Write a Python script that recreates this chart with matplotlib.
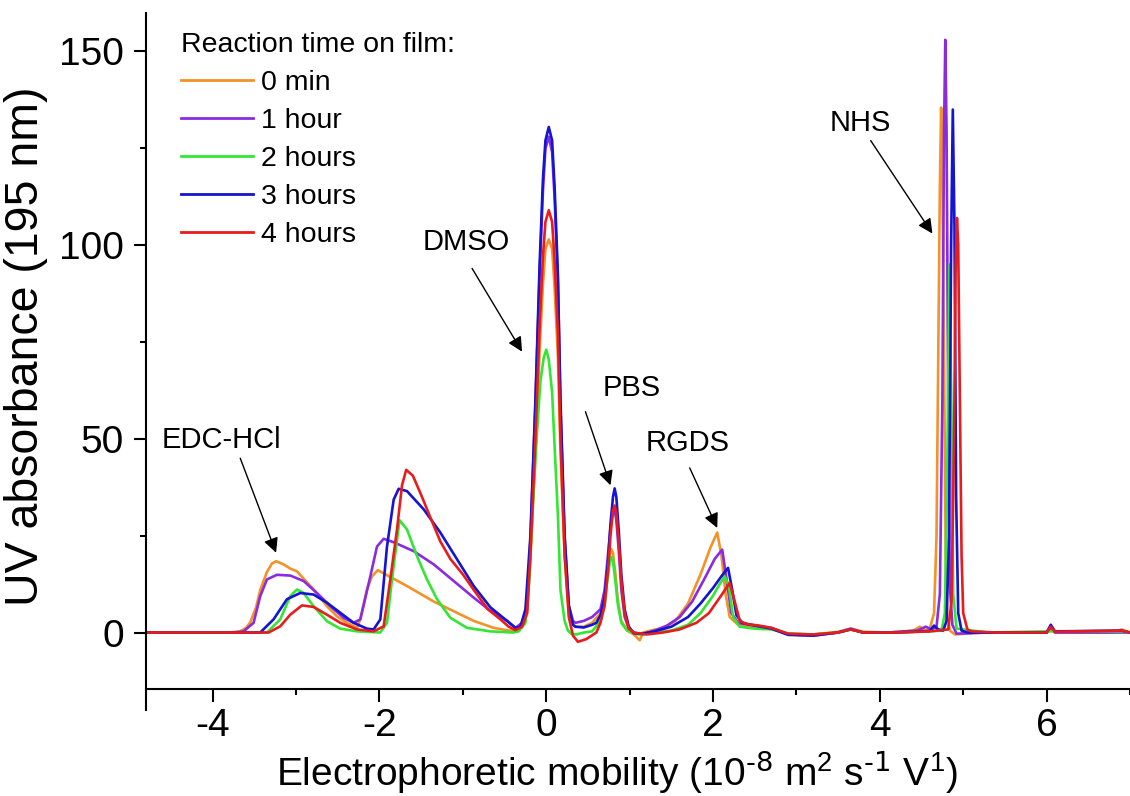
import matplotlib
matplotlib.use("Agg")
import matplotlib.pyplot as plt
from matplotlib.ticker import MultipleLocator

plt.rcParams['font.family'] = ['Liberation Sans', 'DejaVu Sans']
plt.rcParams['mathtext.default'] = 'regular'
plt.rcParams['axes.unicode_minus'] = False

# --- data (mobility, absorbance) ---
x_0min = [-4.8, -3.8, -3.67, -3.6, -3.55, -3.48, -3.43, -3.35, -3.29, -3.24, -3.15, -3.07, -2.99,
          -2.79, -2.63, -2.51, -2.39, -2.27, -2.23, -2.15, -2.09, -2.02, -1.91, -1.67, -1.35,
          -1.11, -0.87, -0.63, -0.45,
          -0.37, -0.29, -0.23, -0.19, -0.13, -0.08, -0.04, -0.01, 0.03, 0.07, 0.1, 0.14, 0.17,
          0.22, 0.27, 0.32, 0.35, 0.45, 0.55, 0.65, 0.7, 0.73, 0.76, 0.78, 0.8, 0.83, 0.86, 0.9,
          0.97, 1.05, 1.12, 1.16, 1.25, 1.4, 1.55, 1.7, 1.85, 1.97, 2.05, 2.1, 2.15, 2.2, 2.3,
          2.5, 2.7, 2.9, 3.2, 3.5, 3.65, 3.8, 4.1, 4.4, 4.48, 4.55, 4.6, 4.65, 4.68, 4.7, 4.72,
          4.735, 4.75, 4.77, 4.79, 4.81, 4.84, 4.9, 5.2, 6.0, 6.05, 6.1, 6.8, 6.9, 7.0]
y_0min = [0, 0, 0.3, 1.2, 2.6, 6.5, 11, 15.6, 17.8, 18.4, 17.6, 16.5, 15.8,
          11.1, 6.8, 4.2, 2.5, 1.2, 3.4, 11.1, 14.5, 16.1, 14.8, 12, 8,
          5.5, 3, 1.2, 0.5,
          0.5, 1.5, 5, 19, 47, 73, 90, 99, 101.5, 99, 89, 71, 47,
          20, 6, 2, 1.5, 1.5, 2.5, 5, 9, 15, 20, 21.5, 20.5, 15, 8, 3,
          0.5, -0.5, -2, 0, 0.5, 1.2, 3, 7.5, 15, 22, 25.8, 20, 10, 4, 2,
          1.5, 1, -0.3, -0.5, 0.2, 1, 0.2, 0, 0.5, 1.5, 0.5, 1, 5, 25, 70, 115,
          135.5, 120, 70, 20, 4, 0.5, -0.5, 0, 0, 1, 0, 0, 0.8, 0]

x_1h = [-4.8, -3.75, -3.63, -3.51, -3.43, -3.35, -3.23, -3.07, -2.91, -2.75, -2.59, -2.43, -2.31,
        -2.23, -2.11, -2.03, -1.95, -1.83, -1.59, -1.35, -1.11, -0.87, -0.67, -0.47,
        -0.37, -0.29, -0.23, -0.19, -0.13, -0.08, -0.04, -0.01, 0.03, 0.07, 0.1, 0.14, 0.17,
        0.22, 0.27, 0.32, 0.35, 0.45, 0.55, 0.65, 0.7, 0.74, 0.77, 0.8, 0.82, 0.84, 0.87, 0.9,
        0.94, 0.99, 1.05, 1.15, 1.3, 1.45, 1.6, 1.75, 1.9, 2.02, 2.11, 2.16, 2.22, 2.3, 2.5,
        2.7, 2.9, 3.2, 3.5, 3.65, 3.8, 4.1, 4.45, 4.55, 4.62, 4.68, 4.72, 4.75, 4.77, 4.785,
        4.8, 4.82, 4.84, 4.87, 4.92, 5.3, 6.0, 6.05, 6.1, 6.9, 7.0]
y_1h = [0, 0, 0.3, 2.5, 9.4, 13.7, 14.9, 14.7, 13.3, 10.2, 6.8, 3.8, 2.5,
        3.4, 14.5, 22.2, 24.2, 23.3, 21, 17.6, 13.3, 9, 5.6, 3,
        1.2, 2.5, 6, 24, 59, 92, 114, 125, 128, 124, 112, 90, 59,
        25, 7, 3, 2.5, 3, 4, 6, 11, 20, 27, 31, 31.5, 29, 21, 11,
        4, 1, 0, -0.5, 0.5, 1.8, 4, 8, 14, 19, 21.4, 14, 5, 2.5, 1.8,
        1.2, -0.5, -0.8, 0, 1, 0, 0, 0.5, 1.5, 0.8, 1.5, 10, 60, 130, 153,
        130, 60, 12, 2, -0.3, 0, 0, 0.8, 0, 0, 0]

x_2h = [-4.8, -3.45, -3.35, -3.19, -3.07, -2.99, -2.91, -2.79, -2.63, -2.47, -2.27, -1.99,
        -1.91, -1.85, -1.76, -1.67, -1.55, -1.43, -1.31, -1.15, -0.95, -0.67, -0.4,
        -0.33, -0.25, -0.21, -0.16, -0.11, -0.07, -0.03, 0.0, 0.03, 0.07, 0.1, 0.14, 0.17, 0.22,
        0.26, 0.3, 0.36, 0.45, 0.55, 0.65, 0.7, 0.73, 0.76, 0.78, 0.8, 0.83, 0.86, 0.9, 0.97,
        1.1, 1.3, 1.5, 1.7, 1.85, 2.0, 2.08, 2.14, 2.19, 2.24, 2.32, 2.5, 2.7, 2.9, 3.2, 3.5,
        3.65, 3.8, 4.2, 4.6, 4.74, 4.78, 4.81, 4.835, 4.86, 4.88, 4.92, 5.3, 6.0, 6.9, 7.0]
y_2h = [0, 0, 0, 3.4, 9.4, 11.1, 10.2, 6.8, 2.9, 1, 0.3, 0,
        2.5, 13.7, 29, 26.6, 19.7, 13.7, 8.6, 3.8, 1.2, 0.3, 0,
        0.3, 2.5, 12, 33, 52, 65, 71, 73, 70.5, 62, 48, 30, 11, 3,
        0.5, -0.3, -0.5, 0, 0.3, 3, 7, 13, 18, 19.5, 18.5, 13, 7, 2.5, 0.5,
        -0.5, 0, 0.5, 2, 5, 9.5, 12.5, 14.5, 12, 4, 1.5, 1, 0.8, -0.3, -0.5, 0,
        0.8, 0, 0, 0.3, 0.5, 5, 45, 95, 55, 10, 1, 0, 0.3, 0.3, 0]

x_3h = [-4.8, -3.55, -3.43, -3.27, -3.11, -2.95, -2.79, -2.63, -2.47, -2.31, -2.15, -2.07,
        -1.99, -1.91, -1.83, -1.77, -1.67, -1.47, -1.27, -1.07, -0.87, -0.67, -0.47, -0.37,
        -0.31, -0.25, -0.19, -0.13, -0.08, -0.04, -0.01, 0.03, 0.07, 0.1, 0.14, 0.17, 0.22,
        0.27, 0.32, 0.35, 0.45, 0.55, 0.6, 0.65, 0.7, 0.74, 0.77, 0.8, 0.82, 0.84, 0.87, 0.9,
        0.94, 0.99, 1.05, 1.15, 1.3, 1.5, 1.7, 1.85, 2.0, 2.1, 2.18, 2.23, 2.28, 2.35, 2.5,
        2.7, 2.9, 3.2, 3.5, 3.65, 3.8, 4.2, 4.6, 4.65, 4.7, 4.76, 4.8, 4.83, 4.855, 4.875,
        4.895, 4.915, 4.94, 4.98, 5.05, 5.4, 6.0, 6.05, 6.1, 6.9, 7.0]
y_3h = [0, 0, 0, 3.4, 8.6, 10.2, 9.8, 7.7, 5.1, 2.5, 1, 0.8,
        3.4, 22.2, 34.3, 37.1, 36.5, 31.8, 25.8, 18.9, 12, 6.5, 3, 1.2,
        1.5, 6, 25, 60, 95, 117, 127, 130.5, 127, 115, 92, 60, 25,
        7, 2, 1.5, 1.3, 2, 2.5, 4.5, 9, 18, 28, 35, 37.2, 35, 26, 15,
        6, 1.5, -0.2, -0.3, 0.3, 1.5, 4, 7.5, 11.5, 14.5, 16.7, 11, 4.5, 2.5, 1.8,
        1, -0.6, -0.8, 0, 0.8, 0, 0, 0.4, 1.8, 0.8, 0.5, 3, 25, 100, 135,
        105, 35, 5, 0.5, 0, 0, 0, 2, 0.3, 0.5, 0]

x_4h = [-4.8, -3.45, -3.33, -3.19, -3.07, -2.93, -2.79, -2.63, -2.47, -2.27, -2.07, -1.95,
        -1.87, -1.79, -1.73, -1.68, -1.6, -1.5, -1.39, -1.27, -1.15, -1.0, -0.87, -0.7, -0.55,
        -0.45, -0.37, -0.29, -0.23, -0.19, -0.13, -0.08, -0.04, -0.01, 0.03, 0.07, 0.1, 0.14,
        0.17, 0.22, 0.27, 0.32, 0.38, 0.48, 0.6, 0.65, 0.7, 0.74, 0.77, 0.8, 0.82, 0.84, 0.87,
        0.9, 0.94, 0.99, 1.05, 1.2, 1.4, 1.6, 1.8, 1.95, 2.08, 2.2, 2.26, 2.32, 2.4, 2.55,
        2.7, 2.9, 3.2, 3.5, 3.65, 3.8, 4.2, 4.6, 4.82, 4.86, 4.89, 4.91, 4.925, 4.94, 4.96,
        4.98, 5.0, 5.05, 5.1, 5.4, 6.0, 6.05, 6.1, 6.9, 7.0]
y_4h = [0, 0, 0, 1.6, 4.6, 7, 6.6, 4.6, 2.5, 0.8, 0.3, 1.6,
        13.7, 26.6, 38, 42, 40.5, 35.5, 29.7, 23.5, 19, 15, 11, 6, 3.4,
        1.5, 0.6, 1.5, 5, 20, 50, 79, 97, 106, 109, 106, 96, 77,
        50, 20, 4, -0.8, -2.4, -1.7, 0, 2.5, 7, 16, 25, 31.5, 32.8, 31, 23,
        13, 5, 1, 0, -0.5, 0, 0.8, 2.5, 5, 9, 12.8, 8, 3, 2.2, 1.8,
        1.2, -0.3, -0.5, 0, 0.8, 0, 0, 0.3, 0.8, 8, 50, 95, 107, 100, 60,
        20, 5, 0.8, 0.3, 0, 0, 1.5, 0.2, 0.5, 0]

labels = ['0 min', '1 hour', '2 hours', '3 hours', '4 hours']
colors = ['#f39226', '#8a2be2', '#33e633', '#1414d2', '#e81c1c']
series = [(x_0min, y_0min), (x_1h, y_1h), (x_2h, y_2h), (x_3h, y_3h), (x_4h, y_4h)]

# peak names, text position, arrow tip
peak_names = ['EDC-HCl', 'DMSO', 'PBS', 'RGDS', 'NHS']
peak_text = [(-3.89, 49.8), (-0.96, 100.7), (1.02, 63.2), (1.70, 49.0), (3.76, 131.5)]
peak_tip = [(-3.24, 20.6), (-0.29, 72.5), (0.77, 38.0), (2.05, 27.0), (4.63, 103.0)]
arrow_start = [(-3.67, 45.0), (-0.89, 94.0), (0.47, 57.0), (1.72, 42.5), (3.89, 127.0)]

fig = plt.figure(figsize=(11.3, 7.96), dpi=100)
ax = fig.add_axes([146 / 1130, 86 / 796, 984 / 1130, 697.3 / 796])

for (xs, ys), lab, c in zip(series, labels, colors):
    ax.plot(xs, ys, color=c, lw=1.9, label=lab, solid_joinstyle='round')

for name, tp, tip, st in zip(peak_names, peak_text, peak_tip, arrow_start):
    ax.text(tp[0], tp[1], name, fontsize=21, ha='center', va='center')
    ax.annotate('', xy=tip, xytext=st,
                arrowprops=dict(arrowstyle='-|>', color='black', lw=1.0,
                                mutation_scale=22, shrinkA=0, shrinkB=0))

ax.set_xlim(-4.8, 7.0)
ax.set_ylim(-20, 160)
ax.spines['top'].set_visible(False)
ax.spines['right'].set_visible(False)
ax.spines['bottom'].set_position(('data', -14.5))
for s in ('left', 'bottom'):
    ax.spines[s].set_linewidth(1.5)

ax.xaxis.set_major_locator(MultipleLocator(2))
ax.xaxis.set_minor_locator(MultipleLocator(1))
ax.yaxis.set_major_locator(MultipleLocator(50))
ax.yaxis.set_minor_locator(MultipleLocator(25))
ax.tick_params(which='major', length=9, width=1.5, labelsize=28, direction='out')
ax.tick_params(which='minor', length=4.5, width=1.5, direction='out')
ax.tick_params(axis='y', pad=7)
ax.tick_params(axis='x', pad=5)

ax.set_xlabel(r'Electrophoretic mobility (10$^{\text{-8}}$ m$^{2}$ s$^{\text{-1}}$ V$^{1}$)',
              fontsize=28)
ax.xaxis.set_label_coords(0.479, -0.055)
ax.set_ylabel('UV absorbance (195 nm)', fontsize=33.5)
ax.yaxis.set_label_coords(-0.1, 0.522)

leg = ax.legend(title='Reaction time on film:', loc='upper left', bbox_to_anchor=(0.036, 0.972),
                frameon=False, fontsize=20.5, title_fontsize=20.5, handlelength=2.5,
                handletextpad=0.3, labelspacing=0.42, borderpad=0, borderaxespad=0,
                alignment='left')
for ln in leg.get_lines():
    ln.set_linewidth(2)

fig.savefig('out.png', dpi=100)
